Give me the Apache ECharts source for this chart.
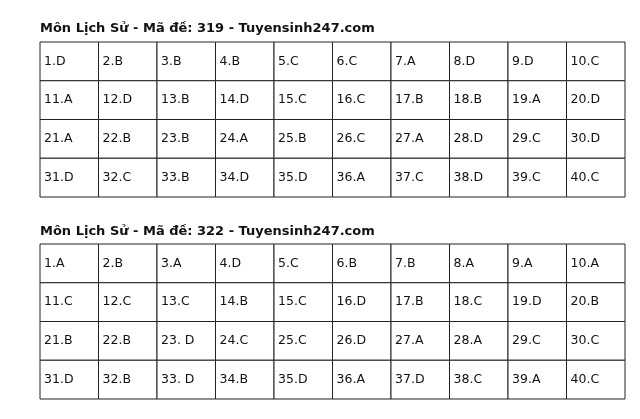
<!DOCTYPE html>
<html><head><meta charset="utf-8">
<script src="https://cdn.jsdelivr.net/npm/echarts@6/dist/echarts.min.js"></script>
<style>html,body{margin:0;padding:0;background:#fff}#c{width:640px;height:419px}</style>
</head><body><div id="c"></div>
<script>
const title1 = "Môn Lịch Sử - Mã đề: 319 - Tuyensinh247.com";
const title2 = "Môn Lịch Sử - Mã đề: 322 - Tuyensinh247.com";
const answers319 = ["1.D","2.B","3.B","4.B","5.C","6.C","7.A","8.D","9.D","10.C",
"11.A","12.D","13.B","14.D","15.C","16.C","17.B","18.B","19.A","20.D",
"21.A","22.B","23.B","24.A","25.B","26.C","27.A","28.D","29.C","30.D",
"31.D","32.C","33.B","34.D","35.D","36.A","37.C","38.D","39.C","40.C"];
const answers322 = ["1.A","2.B","3.A","4.D","5.C","6.B","7.B","8.A","9.A","10.A",
"11.C","12.C","13.C","14.B","15.C","16.D","17.B","18.C","19.D","20.B",
"21.B","22.B","23. D","24.C","25.C","26.D","27.A","28.A","29.C","30.C",
"31.D","32.B","33. D","34.B","35.D","36.A","37.D","38.C","39.A","40.C"];
const COLS = 10;
function toData(arr){return arr.map((t,i)=>[i%COLS, Math.floor(i/COLS), t]);}
function renderItem(params, api){
  const p0 = api.coord([api.value(0), api.value(1)]);
  const p1 = api.coord([api.value(0)+1, api.value(1)+1]);
  const x=Math.min(p0[0],p1[0]), y=Math.min(p0[1],p1[1]);
  const w=Math.abs(p1[0]-p0[0]), h=Math.abs(p1[1]-p0[1]);
  return {type:'group',children:[
    {type:'rect',shape:{x:x,y:y,width:w,height:h},style:{fill:'#fff',stroke:'#222',lineWidth:1}},
    {type:'text',style:{text:api.value(2),x:x+4,y:y+h/2,verticalAlign:'middle',fill:'#111',font:'12.5px "DejaVu Sans"'}}
  ]};
}
const ax = (i,max,inv)=>({gridIndex:i,type:'value',min:0,max:max,inverse:inv,show:false});
const chart = echarts.init(document.getElementById('c'));
chart.setOption({
  animation:false,
  title:[
    {text:title1,left:35,top:17,textStyle:{fontSize:13,fontWeight:'bold',color:'#111',fontFamily:'DejaVu Sans'}},
    {text:title2,left:35,top:220,textStyle:{fontSize:13,fontWeight:'bold',color:'#111',fontFamily:'DejaVu Sans'}}
  ],
  grid:[{left:40,top:42,width:585,height:155},{left:40,top:244,width:585,height:155}],
  xAxis:[ax(0,10,false),ax(1,10,false)],
  yAxis:[ax(0,4,true),ax(1,4,true)],
  series:[
    {type:'custom',xAxisIndex:0,yAxisIndex:0,data:toData(answers319),renderItem:renderItem,encode:{x:0,y:1}},
    {type:'custom',xAxisIndex:1,yAxisIndex:1,data:toData(answers322),renderItem:renderItem,encode:{x:0,y:1}}
  ]
});
</script></body></html>
